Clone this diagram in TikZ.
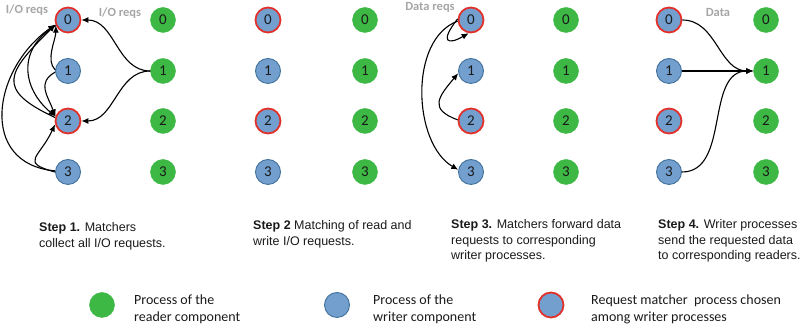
\documentclass[tikz,border=0pt]{standalone}
\usepackage{fontspec}
\setmainfont{Liberation Sans}
\newfontfamily\calib{Carlito}
\usetikzlibrary{arrows.meta}
\definecolor{bfill}{HTML}{729FCE}
\definecolor{bdraw}{HTML}{41719C}
\definecolor{rdraw}{HTML}{E2302A}
\definecolor{gfill}{HTML}{3DB845}
\definecolor{gtext}{HTML}{A6A6A6}
\definecolor{txt}{HTML}{1A1A1A}
\begin{document}
\begin{tikzpicture}[x=1pt,y=1pt,
 proc/.style={circle,minimum size=25pt,inner sep=0pt,font=\calib\fontsize{15}{15}\selectfont,text=txt},
 wr/.style={proc,fill=bfill,draw=bdraw,line width=0.9pt},
 mt/.style={proc,fill=bfill,draw=rdraw,line width=1.8pt},
 rd/.style={proc,fill=gfill,draw=gfill,line width=0.5pt},
 arr/.style={-{Latex[length=7pt,width=6pt]},line width=1.1pt},
 lab/.style={font=\calib\bfseries\fontsize{12.5}{12.5}\selectfont,text=gtext,inner sep=0pt},
 steptxt/.style={anchor=north west,inner sep=0pt,align=left,font=\fontsize{12.5}{15.5}\selectfont,text=txt},
 legtxt/.style={anchor=north west,inner sep=0pt,align=left,font=\calib\fontsize{14}{17}\selectfont,text=txt}]
\useasboundingbox (0,0) rectangle (807,328);
\foreach \p/\bx/\gx in {1/68/163, 2/268/365, 3/471/566, 4/669/766} {
  \foreach \i/\y/\s in {0/308/mt,1/257/wr,2/207/mt,3/156/wr} {
    \node[\s] (w\p\i) at (\bx,\y) {\i};
    \node[rd] (r\p\i) at (\gx,\y) {\i};
  }
}
% labels
\node[lab] (l1) at (27,318) {I/O reqs};
\node[lab] (l2) at (120,315) {I/O reqs};
\node[lab] (l3) at (430,320.5) {Data reqs};
\node[lab] (l4) at (718,315) {Data};
% panel 1
\draw[arr] (w11.175) to[out=135,in=270,looseness=0.8] (w10.205);
\draw[arr] (w11.185) to[out=210,in=110,looseness=1.25] (w12.160);
\draw[arr] (w13.180) to[out=165,in=245,looseness=2] (w12.195);
\draw[arr] (w13.175) to[out=175,in=215,looseness=1.35] (w10.200);
\draw[arr] (w12.165) to[out=155,in=225,looseness=1.85] (w10.200);
\draw[arr] (w10.205) to[out=210,in=140,looseness=1.25] (w12.160);
\draw[arr] (r11.west) to[out=180,in=0] (w10.east);
\draw[arr] (r11.west) to[out=180,in=0] (w12.east);
% panel 3
\draw[arr] (w30.175) to[out=232,in=210,out distance=30pt,in distance=24pt] (w30.260);
\draw[arr] (w30.185) to[out=200,in=150,looseness=0.9] (w33.170);
\draw[arr] (w32.175) to[out=160,in=230,looseness=1.7] (w31.190);
% panel 4
\draw[arr] (w40.east) to[out=0,in=180] (r41.west);
\draw[arr] (w41.east) -- (r41.west);
\draw[arr] (w43.east) to[out=0,in=180] (r41.west);
% step texts
\node[steptxt] (s1) at (39,105.6) {\textbf{Step 1.} Matchers\\collect all I/O requests.};
\node[steptxt] (s2) at (253,107.5) {\textbf{Step 2} Matching of read and\\write I/O requests.};
\node[steptxt] (s3) at (451,108.5) {\textbf{Step 3.} Matchers forward data\\requests to corresponding\\writer processes.};
\node[steptxt] (s4) at (658,108.5) {\textbf{Step 4.} Writer processes\\send the requested data\\to corresponding readers.};
% legend
\node[rd] (lg) at (102,23) {};
\node[wr] (lb) at (337,23) {};
\node[mt] (lr) at (551,23) {};
\node[legtxt] (tg) at (134,33) {Process of the\\reader component};
\node[legtxt] (tb) at (373,33) {Process of the\\writer component};
\node[legtxt] (tr) at (591,33) {Request matcher~ process chosen\\among writer processes};
\end{tikzpicture}
\end{document}
